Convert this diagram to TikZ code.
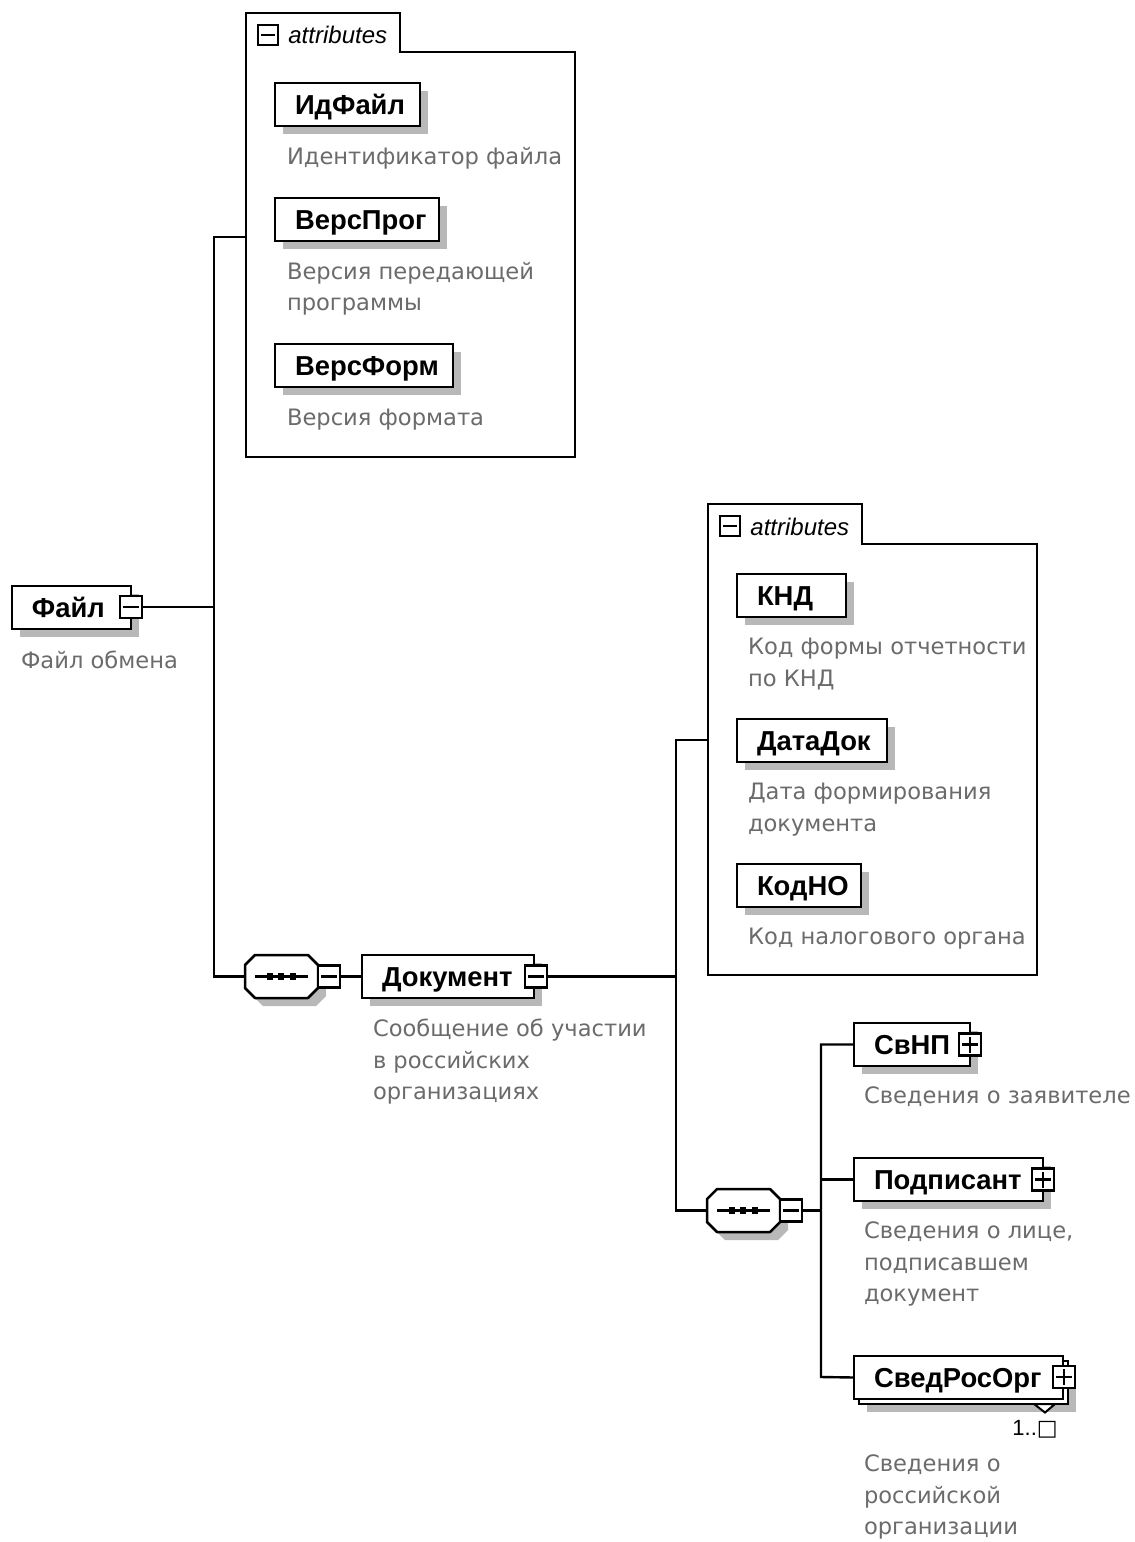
\documentclass[tikz,border=0pt]{standalone}
\usepackage{fontspec}
\setmainfont{Liberation Sans}
\newfontfamily\descfont{DejaVu Sans}
\usetikzlibrary{shadows}
\definecolor{descgray}{gray}{0.42}
\definecolor{shadowgray}{gray}{0.72}
\tikzset{
  conn/.style={line width=1.2pt},
  shad/.style={drop shadow={shadow xshift=4pt,shadow yshift=-4pt,fill=shadowgray,opacity=1}},
  elembase/.style={draw,line width=1.25pt,fill=white,rectangle,anchor=north west,outer sep=0pt,
    inner xsep=10pt,inner ysep=0pt,minimum height=21.5pt,align=left,text height=10pt,text depth=0.2pt,
    font=\fontsize{13.7}{16}\selectfont\bfseries},
  elem/.style={elembase,shad},
  bw/.style={text width=#1*0.5pt-20pt},
  desc/.style={anchor=north west,inner sep=0pt,outer sep=0pt,align=left,text=descgray,
    font=\descfont\fontsize{11.3}{15.8}\selectfont},
  togbase/.style={draw,line width=1.1pt,fill=white,rectangle,minimum size=11pt,inner sep=0pt,outer sep=0pt,anchor=center},
  togminus/.style={togbase,path picture={\draw[line width=1.1pt]
     ([xshift=1.5pt]path picture bounding box.west)--([xshift=-1.5pt]path picture bounding box.east);}},
  togplus/.style={togbase,path picture={\draw[line width=1.1pt]
     ([xshift=1.5pt]path picture bounding box.west)--([xshift=-1.5pt]path picture bounding box.east)
     ([yshift=1.5pt]path picture bounding box.south)--([yshift=-1.5pt]path picture bounding box.north);}},
  seqline/.style={draw,line width=1.25pt,fill=white,line join=round,shad},
  panel/.style={draw,line width=1.1pt,fill=white},
  attr/.style={anchor=west,inner sep=0pt,font=\fontsize{12}{14}\selectfont\itshape},
  dot/.style={fill=black,draw=none,rectangle,minimum size=3.4pt,inner sep=0pt}
}
\begin{document}
\begin{tikzpicture}[x=0.5pt,y=-0.5pt]
\useasboundingbox (0,0) rectangle (1135,1542);
% attribute panels
\draw[panel] (246,13) -- (400,13) -- (400,52) -- (575,52) -- (575,457) -- (246,457) -- cycle;
\coordinate (panelA) at (246,237);
\node[togminus,minimum size=10pt] (tA) at (268,35) {};
\node[attr] (attrA) at (288,35) {attributes};
\draw[panel] (708,504) -- (862,504) -- (862,544) -- (1037,544) -- (1037,975) -- (708,975) -- cycle;
\coordinate (panelB) at (708,740);
\node[togminus,minimum size=10pt] (tB) at (730,526) {};
\node[attr] (attrB) at (750,527) {attributes};
% root
\node[elem,bw=119] (file) at (12,586) {Файл};
\node[togminus] (tfile) at (131,607) {};
\node[desc] at (21,651) {Файл обмена};
% attributes of root
\node[elem,bw=145] (idf) at (275,83) {ИдФайл};
\node[desc] at (287,147) {Идентификатор файла};
\node[elem,bw=164] (vprog) at (275,198) {ВерсПрог};
\node[desc] at (287,262) {Версия передающей\\программы};
\node[elem,bw=178] (vform) at (275,344) {ВерсФорм};
\node[desc] at (287,409) {Версия формата};
% sequence 1
\draw[seqline] (255,955) -- (308,955) -- (318,965) -- (318,988) -- (308,998) -- (255,998) -- (245,988) -- (245,965) -- cycle;
\coordinate (seqAw) at (245,976.5);
\node[togminus] (tseqA) at (329,976.5) {};
\draw[conn] (255,976.5) -- (308,976.5);
\node[dot] (a1) at (270,976.5) {};
\node[dot] (a2) at (281,976.5) {};
\node[dot] (a3) at (293,976.5) {};
% document
\node[elem,bw=172] (doc) at (362,955) {Документ};
\node[togminus] (tdoc) at (536,976.5) {};
\node[desc] at (373,1019) {Сообщение об участии\\в российских\\организациях};
% attributes of document
\node[elem,bw=109] (knd) at (737,574) {КНД};
\node[desc] at (748,638) {Код формы отчетности\\по КНД};
\node[elem,bw=150] (dat) at (737,719) {ДатаДок};
\node[desc] at (748,783) {Дата формирования\\документа};
\node[elem,bw=124] (kno) at (737,864) {КодНО};
\node[desc] at (748,928) {Код налогового органа};
% sequence 2
\draw[seqline] (717,1189) -- (770,1189) -- (780,1199) -- (780,1222) -- (770,1232) -- (717,1232) -- (707,1222) -- (707,1199) -- cycle;
\coordinate (seqBw) at (707,1210.5);
\node[togminus] (tseqB) at (791,1210.5) {};
\draw[conn] (717,1210.5) -- (770,1210.5);
\node[dot] (b1) at (732,1210.5) {};
\node[dot] (b2) at (743,1210.5) {};
\node[dot] (b3) at (755,1210.5) {};
% children
\node[elem,bw=116] (svnp) at (854,1023) {СвНП};
\node[togplus] (tsvnp) at (970,1044.5) {};
\node[desc] at (864,1087) {Сведения о заявителе};
\node[elem,bw=189] (podp) at (854,1158) {Подписант};
\node[togplus] (tpodp) at (1043,1179.5) {};
\node[desc] at (864,1222) {Сведения о лице,\\подписавшем\\документ};
\node[elem,bw=209] (sv2) at (859,1361) {\phantom{С}};
\node[elembase,bw=209] (sv) at (854,1356) {СведРосОрг};
\node[togplus] (tsv) at (1064,1377) {};
\draw[line width=1pt,fill=white] (1034,1404) -- (1055,1404) -- (1045,1412.5) -- cycle;
\node[anchor=west,inner sep=0pt,font=\fontsize{11}{13}\selectfont] (mult) at (1012,1429) {1..{\descfont □}};
\node[desc] at (864,1455) {Сведения о\\российской\\организации};
% connectors
\coordinate (j1) at (214,607);
\coordinate (j1t) at (214,237);
\coordinate (j1b) at (214,976.5);
\draw[conn] (tfile.east) -- (j1);
\draw[conn] (panelA) -- (j1t) -- (j1b) -- (seqAw);
\draw[conn] (tseqA.east) -- (doc.west);
\coordinate (j2) at (676,976.5);
\coordinate (j2t) at (676,740);
\coordinate (j2b) at (676,1210.5);
\draw[conn] (tdoc.east) -- (j2);
\draw[conn] (panelB) -- (j2t) -- (j2b) -- (seqBw);
\coordinate (j3) at (821,1210.5);
\coordinate (j3t) at (821,1044.5);
\coordinate (j3m) at (821,1179.5);
\coordinate (j3b) at (821,1377);
\draw[conn] (tseqB.east) -- (j3);
\draw[conn] (svnp.west) -- (j3t) -- (j3b) -- (sv.west);
\draw[conn] (podp.west) -- (j3m);
\end{tikzpicture}
\end{document}
